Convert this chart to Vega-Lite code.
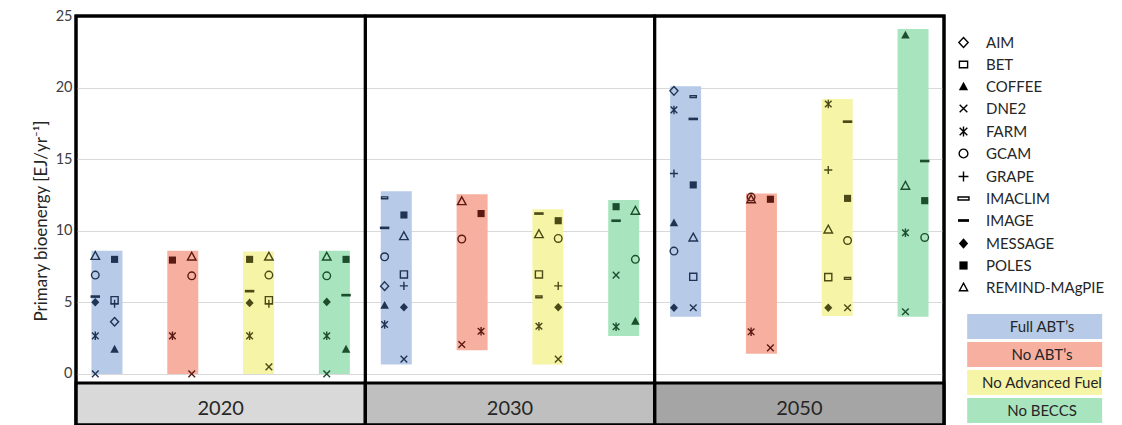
{
  "$schema": "https://vega.github.io/schema/vega-lite/v6.json",
  "padding": {"left": 30, "top": 6, "right": 0, "bottom": 0},
  "config": {
    "font": "Lato",
    "view": {"stroke": "#000000", "strokeWidth": 3}
  },
  "datasets": {
    "years": [{"year": "2020"}, {"year": "2030"}, {"year": "2050"}],
    "models": [
      {"model": "AIM"}, {"model": "BET"}, {"model": "COFFEE"}, {"model": "DNE2"},
      {"model": "FARM"}, {"model": "GCAM"}, {"model": "GRAPE"}, {"model": "IMACLIM"},
      {"model": "IMAGE"}, {"model": "MESSAGE"}, {"model": "POLES"}, {"model": "REMIND-MAgPIE"}
    ],
    "ranges": [
      {"year": "2020", "scenario": "Full ABT’s", "lo": 0.0, "hi": 8.6},
      {"year": "2020", "scenario": "No ABT’s", "lo": 0.0, "hi": 8.6},
      {"year": "2020", "scenario": "No Advanced Fuel", "lo": 0.0, "hi": 8.55},
      {"year": "2020", "scenario": "No BECCS", "lo": 0.0, "hi": 8.6},
      {"year": "2030", "scenario": "Full ABT’s", "lo": 0.65, "hi": 12.75},
      {"year": "2030", "scenario": "No ABT’s", "lo": 1.65, "hi": 12.55},
      {"year": "2030", "scenario": "No Advanced Fuel", "lo": 0.65, "hi": 11.5},
      {"year": "2030", "scenario": "No BECCS", "lo": 2.65, "hi": 12.15},
      {"year": "2050", "scenario": "Full ABT’s", "lo": 4.0, "hi": 20.1},
      {"year": "2050", "scenario": "No ABT’s", "lo": 1.4, "hi": 12.6},
      {"year": "2050", "scenario": "No Advanced Fuel", "lo": 4.05, "hi": 19.2},
      {"year": "2050", "scenario": "No BECCS", "lo": 4.0, "hi": 24.1}
    ],
    "points": [
      {"year": "2020", "scenario": "Full ABT’s", "model": "REMIND-MAgPIE", "lane": "L", "value": 8.25},
      {"year": "2020", "scenario": "Full ABT’s", "model": "POLES", "lane": "R", "value": 8.0},
      {"year": "2020", "scenario": "Full ABT’s", "model": "GCAM", "lane": "L", "value": 6.9},
      {"year": "2020", "scenario": "Full ABT’s", "model": "IMAGE", "lane": "L", "value": 5.4},
      {"year": "2020", "scenario": "Full ABT’s", "model": "MESSAGE", "lane": "L", "value": 5.0},
      {"year": "2020", "scenario": "Full ABT’s", "model": "BET", "lane": "R", "value": 5.15},
      {"year": "2020", "scenario": "Full ABT’s", "model": "GRAPE", "lane": "R", "value": 4.9},
      {"year": "2020", "scenario": "Full ABT’s", "model": "AIM", "lane": "R", "value": 3.64},
      {"year": "2020", "scenario": "Full ABT’s", "model": "FARM", "lane": "L", "value": 2.66},
      {"year": "2020", "scenario": "Full ABT’s", "model": "COFFEE", "lane": "R", "value": 1.73},
      {"year": "2020", "scenario": "Full ABT’s", "model": "DNE2", "lane": "L", "value": 0.0},

      {"year": "2020", "scenario": "No ABT’s", "model": "POLES", "lane": "L", "value": 7.95},
      {"year": "2020", "scenario": "No ABT’s", "model": "REMIND-MAgPIE", "lane": "R", "value": 8.2},
      {"year": "2020", "scenario": "No ABT’s", "model": "GCAM", "lane": "R", "value": 6.85},
      {"year": "2020", "scenario": "No ABT’s", "model": "FARM", "lane": "L", "value": 2.66},
      {"year": "2020", "scenario": "No ABT’s", "model": "DNE2", "lane": "R", "value": 0.0},

      {"year": "2020", "scenario": "No Advanced Fuel", "model": "POLES", "lane": "L", "value": 8.0},
      {"year": "2020", "scenario": "No Advanced Fuel", "model": "REMIND-MAgPIE", "lane": "R", "value": 8.2},
      {"year": "2020", "scenario": "No Advanced Fuel", "model": "GCAM", "lane": "R", "value": 6.9},
      {"year": "2020", "scenario": "No Advanced Fuel", "model": "IMAGE", "lane": "L", "value": 5.78},
      {"year": "2020", "scenario": "No Advanced Fuel", "model": "MESSAGE", "lane": "L", "value": 4.96},
      {"year": "2020", "scenario": "No Advanced Fuel", "model": "BET", "lane": "R", "value": 5.15},
      {"year": "2020", "scenario": "No Advanced Fuel", "model": "GRAPE", "lane": "R", "value": 4.9},
      {"year": "2020", "scenario": "No Advanced Fuel", "model": "FARM", "lane": "L", "value": 2.66},
      {"year": "2020", "scenario": "No Advanced Fuel", "model": "DNE2", "lane": "R", "value": 0.49},

      {"year": "2020", "scenario": "No BECCS", "model": "REMIND-MAgPIE", "lane": "L", "value": 8.2},
      {"year": "2020", "scenario": "No BECCS", "model": "POLES", "lane": "R", "value": 8.0},
      {"year": "2020", "scenario": "No BECCS", "model": "GCAM", "lane": "L", "value": 6.85},
      {"year": "2020", "scenario": "No BECCS", "model": "IMAGE", "lane": "R", "value": 5.5},
      {"year": "2020", "scenario": "No BECCS", "model": "MESSAGE", "lane": "L", "value": 5.03},
      {"year": "2020", "scenario": "No BECCS", "model": "FARM", "lane": "L", "value": 2.66},
      {"year": "2020", "scenario": "No BECCS", "model": "COFFEE", "lane": "R", "value": 1.73},
      {"year": "2020", "scenario": "No BECCS", "model": "DNE2", "lane": "L", "value": 0.0},

      {"year": "2030", "scenario": "Full ABT’s", "model": "IMACLIM", "lane": "L", "value": 12.3},
      {"year": "2030", "scenario": "Full ABT’s", "model": "IMAGE", "lane": "L", "value": 10.2},
      {"year": "2030", "scenario": "Full ABT’s", "model": "GCAM", "lane": "L", "value": 8.18},
      {"year": "2030", "scenario": "Full ABT’s", "model": "AIM", "lane": "L", "value": 6.13},
      {"year": "2030", "scenario": "Full ABT’s", "model": "COFFEE", "lane": "L", "value": 4.8},
      {"year": "2030", "scenario": "Full ABT’s", "model": "FARM", "lane": "L", "value": 3.45},
      {"year": "2030", "scenario": "Full ABT’s", "model": "POLES", "lane": "R", "value": 11.1},
      {"year": "2030", "scenario": "Full ABT’s", "model": "REMIND-MAgPIE", "lane": "R", "value": 9.63},
      {"year": "2030", "scenario": "Full ABT’s", "model": "BET", "lane": "R", "value": 6.95},
      {"year": "2030", "scenario": "Full ABT’s", "model": "GRAPE", "lane": "R", "value": 6.15},
      {"year": "2030", "scenario": "Full ABT’s", "model": "MESSAGE", "lane": "R", "value": 4.66},
      {"year": "2030", "scenario": "Full ABT’s", "model": "DNE2", "lane": "R", "value": 1.03},

      {"year": "2030", "scenario": "No ABT’s", "model": "REMIND-MAgPIE", "lane": "L", "value": 12.07},
      {"year": "2030", "scenario": "No ABT’s", "model": "POLES", "lane": "R", "value": 11.2},
      {"year": "2030", "scenario": "No ABT’s", "model": "GCAM", "lane": "L", "value": 9.42},
      {"year": "2030", "scenario": "No ABT’s", "model": "FARM", "lane": "R", "value": 2.98},
      {"year": "2030", "scenario": "No ABT’s", "model": "DNE2", "lane": "L", "value": 2.05},

      {"year": "2030", "scenario": "No Advanced Fuel", "model": "IMAGE", "lane": "L", "value": 11.2},
      {"year": "2030", "scenario": "No Advanced Fuel", "model": "POLES", "lane": "R", "value": 10.7},
      {"year": "2030", "scenario": "No Advanced Fuel", "model": "REMIND-MAgPIE", "lane": "L", "value": 9.77},
      {"year": "2030", "scenario": "No Advanced Fuel", "model": "GCAM", "lane": "R", "value": 9.46},
      {"year": "2030", "scenario": "No Advanced Fuel", "model": "BET", "lane": "L", "value": 6.95},
      {"year": "2030", "scenario": "No Advanced Fuel", "model": "GRAPE", "lane": "R", "value": 6.15},
      {"year": "2030", "scenario": "No Advanced Fuel", "model": "IMACLIM", "lane": "L", "value": 5.38},
      {"year": "2030", "scenario": "No Advanced Fuel", "model": "MESSAGE", "lane": "R", "value": 4.66},
      {"year": "2030", "scenario": "No Advanced Fuel", "model": "FARM", "lane": "L", "value": 3.33},
      {"year": "2030", "scenario": "No Advanced Fuel", "model": "DNE2", "lane": "R", "value": 1.03},

      {"year": "2030", "scenario": "No BECCS", "model": "POLES", "lane": "L", "value": 11.68},
      {"year": "2030", "scenario": "No BECCS", "model": "IMAGE", "lane": "L", "value": 10.7},
      {"year": "2030", "scenario": "No BECCS", "model": "REMIND-MAgPIE", "lane": "R", "value": 11.4},
      {"year": "2030", "scenario": "No BECCS", "model": "GCAM", "lane": "R", "value": 8.0},
      {"year": "2030", "scenario": "No BECCS", "model": "DNE2", "lane": "L", "value": 6.9},
      {"year": "2030", "scenario": "No BECCS", "model": "FARM", "lane": "L", "value": 3.29},
      {"year": "2030", "scenario": "No BECCS", "model": "COFFEE", "lane": "R", "value": 3.69},

      {"year": "2050", "scenario": "Full ABT’s", "model": "AIM", "lane": "L", "value": 19.77},
      {"year": "2050", "scenario": "Full ABT’s", "model": "FARM", "lane": "L", "value": 18.44},
      {"year": "2050", "scenario": "Full ABT’s", "model": "IMACLIM", "lane": "R", "value": 19.37},
      {"year": "2050", "scenario": "Full ABT’s", "model": "IMAGE", "lane": "R", "value": 17.81},
      {"year": "2050", "scenario": "Full ABT’s", "model": "GRAPE", "lane": "L", "value": 14.0},
      {"year": "2050", "scenario": "Full ABT’s", "model": "POLES", "lane": "R", "value": 13.2},
      {"year": "2050", "scenario": "Full ABT’s", "model": "COFFEE", "lane": "L", "value": 10.56},
      {"year": "2050", "scenario": "Full ABT’s", "model": "REMIND-MAgPIE", "lane": "R", "value": 9.53},
      {"year": "2050", "scenario": "Full ABT’s", "model": "GCAM", "lane": "L", "value": 8.58},
      {"year": "2050", "scenario": "Full ABT’s", "model": "BET", "lane": "R", "value": 6.78},
      {"year": "2050", "scenario": "Full ABT’s", "model": "MESSAGE", "lane": "L", "value": 4.62},
      {"year": "2050", "scenario": "Full ABT’s", "model": "DNE2", "lane": "R", "value": 4.62},

      {"year": "2050", "scenario": "No ABT’s", "model": "GCAM", "lane": "L", "value": 12.35},
      {"year": "2050", "scenario": "No ABT’s", "model": "REMIND-MAgPIE", "lane": "L", "value": 12.2},
      {"year": "2050", "scenario": "No ABT’s", "model": "POLES", "lane": "R", "value": 12.2},
      {"year": "2050", "scenario": "No ABT’s", "model": "FARM", "lane": "L", "value": 2.94},
      {"year": "2050", "scenario": "No ABT’s", "model": "DNE2", "lane": "R", "value": 1.82},

      {"year": "2050", "scenario": "No Advanced Fuel", "model": "FARM", "lane": "L", "value": 18.85},
      {"year": "2050", "scenario": "No Advanced Fuel", "model": "IMAGE", "lane": "R", "value": 17.62},
      {"year": "2050", "scenario": "No Advanced Fuel", "model": "GRAPE", "lane": "L", "value": 14.24},
      {"year": "2050", "scenario": "No Advanced Fuel", "model": "POLES", "lane": "R", "value": 12.26},
      {"year": "2050", "scenario": "No Advanced Fuel", "model": "REMIND-MAgPIE", "lane": "L", "value": 10.09},
      {"year": "2050", "scenario": "No Advanced Fuel", "model": "GCAM", "lane": "R", "value": 9.32},
      {"year": "2050", "scenario": "No Advanced Fuel", "model": "BET", "lane": "L", "value": 6.76},
      {"year": "2050", "scenario": "No Advanced Fuel", "model": "IMACLIM", "lane": "R", "value": 6.67},
      {"year": "2050", "scenario": "No Advanced Fuel", "model": "MESSAGE", "lane": "L", "value": 4.62},
      {"year": "2050", "scenario": "No Advanced Fuel", "model": "DNE2", "lane": "R", "value": 4.62},

      {"year": "2050", "scenario": "No BECCS", "model": "COFFEE", "lane": "L", "value": 23.68},
      {"year": "2050", "scenario": "No BECCS", "model": "IMAGE", "lane": "R", "value": 14.87},
      {"year": "2050", "scenario": "No BECCS", "model": "REMIND-MAgPIE", "lane": "L", "value": 13.15},
      {"year": "2050", "scenario": "No BECCS", "model": "POLES", "lane": "R", "value": 12.1},
      {"year": "2050", "scenario": "No BECCS", "model": "FARM", "lane": "L", "value": 9.86},
      {"year": "2050", "scenario": "No BECCS", "model": "GCAM", "lane": "R", "value": 9.53},
      {"year": "2050", "scenario": "No BECCS", "model": "DNE2", "lane": "L", "value": 4.34}
    ]
  },
  "bounds": "flush",
  "spacing": 0,
  "resolve": {"scale": {"shape": "independent", "fill": "independent", "stroke": "independent"}},
  "hconcat": [
    {
      "width": 868,
      "height": 409,
      "layer": [
        {
          "data": {"name": "ranges"},
          "mark": {"type": "bar"},
          "encoding": {
            "x": {"field": "year", "type": "nominal", "scale": {"domain": ["2020", "2030", "2050"], "paddingInner": 0, "paddingOuter": 0}, "axis": null},
            "xOffset": {"field": "scenario", "type": "nominal", "scale": {"domain": ["Full ABT’s", "No ABT’s", "No Advanced Fuel", "No BECCS"], "paddingInner": 0.591, "paddingOuter": 0.204}},
            "y": {
              "field": "lo", "type": "quantitative",
              "scale": {"domain": [-3.57, 25], "nice": false, "zero": false},
              "title": "Primary bioenergy [EJ/yr⁻¹]",
              "axis": {
                "values": [0, 5, 10, 15, 20, 25],
                "domain": false, "ticks": false, "grid": true,
                "gridColor": "#d9d9d9", "gridWidth": 1,
                "labelFontSize": 14.5, "labelColor": "#404040", "labelPadding": 4,
                "titleFontSize": 17, "titleFontWeight": "normal", "titleColor": "#262626", "titlePadding": 5
              }
            },
            "y2": {"field": "hi"},
            "fill": {
              "field": "scenario", "type": "nominal",
              "scale": {"domain": ["Full ABT’s", "No ABT’s", "No Advanced Fuel", "No BECCS"], "range": ["#b7cbe8", "#f7b0a0", "#f6f4a6", "#a8e5bf"]},
              "legend": {
                "orient": "none", "legendX": 891, "legendY": 298, "title": null, "padding": 0,
                "symbolType": "M-1,-0.167L1,-0.167L1,0.167L-1,0.167Z",
                "symbolSize": 22400, "symbolStrokeWidth": 0, "symbolOpacity": 1,
                "labelAlign": "center", "labelOffset": -75, "labelFontSize": 15, "labelColor": "#262626",
                "clipHeight": 25, "rowPadding": 3
              }
            }
          }
        },
        {
          "data": {"name": "years"},
          "mark": {"type": "rect", "stroke": "#000000", "strokeWidth": 3},
          "encoding": {
            "x": {"field": "year", "type": "nominal"},
            "y": {"datum": -0.63},
            "y2": {"datum": -3.57},
            "fill": {"condition": [{"test": "datum.year === '2020'", "value": "#d9d9d9"}, {"test": "datum.year === '2030'", "value": "#bfbfbf"}], "value": "#a5a5a5"}
          }
        },
        {
          "data": {"name": "points"},
          "transform": [
            {"filter": {"not": {"field": "model", "oneOf": ["COFFEE", "IMAGE", "MESSAGE", "POLES"]}}},
            {"calculate": "datum.scenario + '|' + datum.lane", "as": "slot"}
          ],
          "mark": {"type": "point", "filled": false, "size": 90, "strokeWidth": 1.4, "opacity": 1},
          "encoding": {
            "x": {"field": "year", "type": "nominal"},
            "xOffset": {"field": "slot", "type": "nominal", "scale": {"type": "point", "padding": 1.133, "domain": ["Full ABT’s|L", "Full ABT’s|R", "gap1", "gap2", "No ABT’s|L", "No ABT’s|R", "gap3", "gap4", "No Advanced Fuel|L", "No Advanced Fuel|R", "gap5", "gap6", "No BECCS|L", "No BECCS|R"]}},
            "y": {"field": "value", "type": "quantitative", "title": "Primary bioenergy [EJ/yr⁻¹]"},
            "color": {"field": "scenario", "type": "nominal", "scale": {"domain": ["Full ABT’s", "No ABT’s", "No Advanced Fuel", "No BECCS"], "range": ["#1f3354", "#5a1a12", "#4b4a17", "#1c4d2c"]}, "legend": null},
            "shape": {
              "field": "model", "type": "nominal",
              "scale": {
                "domain": ["AIM", "BET", "COFFEE", "DNE2", "FARM", "GCAM", "GRAPE", "IMACLIM", "IMAGE", "MESSAGE", "POLES", "REMIND-MAgPIE"],
                "range": [
                  "M0,-0.9L0.85,0L0,0.9L-0.85,0Z",
                  "M-0.75,-0.75L0.75,-0.75L0.75,0.75L-0.75,0.75Z",
                  "M0,-0.9L0.9,0.75L-0.9,0.75Z",
                  "M-0.7,-0.7L0.7,0.7M-0.7,0.7L0.7,-0.7",
                  "M-0.7,-0.7L0.7,0.7M-0.7,0.7L0.7,-0.7M0,-0.9L0,0.9",
                  "M0.8,0A0.8,0.8,0,1,1,-0.8,0A0.8,0.8,0,1,1,0.8,0Z",
                  "M-0.85,0L0.85,0M0,-0.85L0,0.85",
                  "M-0.65,-0.2L0.65,-0.2L0.65,0.2L-0.65,0.2Z",
                  "M-1,-0.28L1,-0.28L1,0.28L-1,0.28Z",
                  "M0,-0.9L0.85,0L0,0.9L-0.85,0Z",
                  "M-0.75,-0.75L0.75,-0.75L0.75,0.75L-0.75,0.75Z",
                  "M0,-0.9L0.9,0.75L-0.9,0.75Z"
                ]
              },
              "legend": null
            }
          }
        },
        {
          "data": {"name": "points"},
          "transform": [
            {"filter": {"field": "model", "oneOf": ["COFFEE", "IMAGE", "MESSAGE", "POLES"]}},
            {"calculate": "datum.scenario + '|' + datum.lane", "as": "slot"}
          ],
          "mark": {"type": "point", "filled": true, "size": 90, "opacity": 1},
          "encoding": {
            "x": {"field": "year", "type": "nominal"},
            "xOffset": {"field": "slot", "type": "nominal", "scale": {"type": "point", "padding": 1.133, "domain": ["Full ABT’s|L", "Full ABT’s|R", "gap1", "gap2", "No ABT’s|L", "No ABT’s|R", "gap3", "gap4", "No Advanced Fuel|L", "No Advanced Fuel|R", "gap5", "gap6", "No BECCS|L", "No BECCS|R"]}},
            "y": {"field": "value", "type": "quantitative", "title": "Primary bioenergy [EJ/yr⁻¹]"},
            "color": {"field": "scenario", "type": "nominal", "legend": null},
            "shape": {"field": "model", "type": "nominal", "legend": null}
          }
        },
        {
          "data": {"name": "years"},
          "mark": {"type": "rect", "fill": "transparent", "stroke": "#000000", "strokeWidth": 3},
          "encoding": {
            "x": {"field": "year", "type": "nominal"},
            "y": {"datum": 25},
            "y2": {"datum": -3.57}
          }
        },
        {
          "data": {"name": "years"},
          "mark": {"type": "text", "fontSize": 20, "color": "#262626", "baseline": "middle"},
          "encoding": {
            "x": {"field": "year", "type": "nominal"},
            "y": {"datum": -2.45},
            "text": {"field": "year"}
          }
        }
      ],
      "resolve": {"scale": {"xOffset": "independent"}}
    },
    {
      "width": 176,
      "height": 409,
      "data": {"name": "models"},
      "mark": {"type": "point", "opacity": 0, "size": 120, "strokeWidth": 1.4},
      "encoding": {
        "shape": {
          "field": "model", "type": "nominal",
          "scale": {
            "domain": ["AIM", "BET", "COFFEE", "DNE2", "FARM", "GCAM", "GRAPE", "IMACLIM", "IMAGE", "MESSAGE", "POLES", "REMIND-MAgPIE"],
            "range": [
              "M0,-0.9L0.85,0L0,0.9L-0.85,0Z",
              "M-0.75,-0.6L0.75,-0.6L0.75,0.6L-0.75,0.6Z",
              "M0,-0.85L0.85,0.7L-0.85,0.7Z",
              "M-0.7,-0.7L0.7,0.7M-0.7,0.7L0.7,-0.7",
              "M-0.7,-0.7L0.7,0.7M-0.7,0.7L0.7,-0.7M0,-0.9L0,0.9",
              "M0.8,0A0.8,0.8,0,1,1,-0.8,0A0.8,0.8,0,1,1,0.8,0Z",
              "M-0.9,0L0.9,0M0,-0.9L0,0.9",
              "M-1.0,-0.28L1.0,-0.28L1.0,0.28L-1.0,0.28Z",
              "M-1.0,-0.25L1.0,-0.25L1.0,0.25L-1.0,0.25Z",
              "M0,-0.95L0.85,0L0,0.95L-0.85,0Z",
              "M-0.75,-0.75L0.75,-0.75L0.75,0.75L-0.75,0.75Z",
              "M0,-0.8L0.75,0.6L-0.75,0.6Z"
            ]
          },
          "legend": {
            "orient": "none", "legendX": 12, "legendY": 19, "title": null, "padding": 0,
            "symbolSize": 120, "symbolStrokeWidth": 1.4, "symbolOpacity": 1,
            "labelFontSize": 15, "labelColor": "#262626", "labelOffset": 15, "rowPadding": 6
          }
        },
        "fill": {
          "field": "model", "type": "nominal",
          "scale": {
            "domain": ["AIM", "BET", "COFFEE", "DNE2", "FARM", "GCAM", "GRAPE", "IMACLIM", "IMAGE", "MESSAGE", "POLES", "REMIND-MAgPIE"],
            "range": ["transparent", "transparent", "#000000", "transparent", "transparent", "transparent", "transparent", "transparent", "#000000", "#000000", "#000000", "transparent"]
          },
          "legend": {
            "orient": "none", "legendX": 12, "legendY": 19, "title": null, "padding": 0,
            "symbolSize": 120, "symbolStrokeWidth": 1.4, "symbolOpacity": 1,
            "labelFontSize": 15, "labelColor": "#262626", "labelOffset": 15, "rowPadding": 6
          }
        },
        "stroke": {
          "field": "model", "type": "nominal",
          "scale": {
            "domain": ["AIM", "BET", "COFFEE", "DNE2", "FARM", "GCAM", "GRAPE", "IMACLIM", "IMAGE", "MESSAGE", "POLES", "REMIND-MAgPIE"],
            "range": ["#000000", "#000000", "transparent", "#000000", "#000000", "#000000", "#000000", "#000000", "transparent", "transparent", "transparent", "#000000"]
          },
          "legend": {
            "orient": "none", "legendX": 12, "legendY": 19, "title": null, "padding": 0,
            "symbolSize": 120, "symbolStrokeWidth": 1.4, "symbolOpacity": 1,
            "labelFontSize": 15, "labelColor": "#262626", "labelOffset": 15, "rowPadding": 6
          }
        }
      }
    }
  ]
}
